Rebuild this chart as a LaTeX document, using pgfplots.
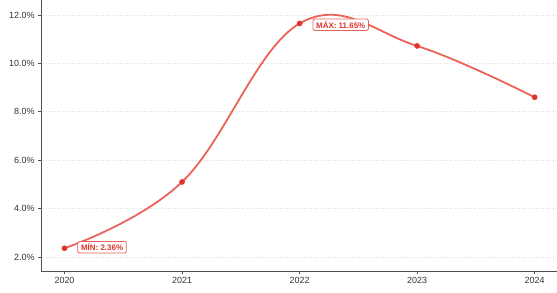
\documentclass[border=0pt]{standalone}
\usepackage{pgfplots}
\pgfplotsset{compat=1.18}
\usepackage{fontspec}
\setmainfont{Liberation Sans}
\definecolor{linered}{RGB}{236,98,88}
\definecolor{markred}{RGB}{222,52,44}
\definecolor{gridgray}{RGB}{222,222,222}
\definecolor{axisgray}{RGB}{80,80,80}
\begin{document}
\begin{tikzpicture}[x=1bp,y=1bp]
\begin{axis}[
  name=ax,
  scale only axis,
  width=516bp, height=271bp,
  xmin=2019.8, xmax=2024.19,
  ymin=1.42, ymax=12.62,
  axis lines*=left,
  axis line style={axisgray, line width=1pt},
  xtick={2020,2021,2022,2023,2024},
  ytick={2,4,6,8,10,12},
  xticklabel style={/pgf/number format/1000 sep=},
  yticklabel={\pgfmathprintnumber[fixed,fixed zerofill,precision=1]{\tick}\%},
  /pgf/number format/assume math mode=true,
  ticklabel style={font=\fontsize{9}{10}\selectfont, text=black!80},
  tick style={axisgray, line width=0.7pt},
  tick align=outside,
  major tick length=3bp,
  ymajorgrids,
  grid style={gridgray, dotted, line width=0.6pt},
  clip=false,
]
\addplot[linered, line width=1.8pt, smooth, tension=0.65] coordinates {
  (2020,2.36) (2021,5.10) (2022,11.65) (2023,10.72) (2024,8.60)
};
\addplot[only marks, mark=*, mark size=2.6pt, markred, mark options={draw=markred, fill=markred}] coordinates {
  (2020,2.36) (2021,5.10) (2022,11.65) (2023,10.72) (2024,8.60)
};
\node[anchor=west, draw=linered, fill=white, rounded corners=2pt, inner xsep=3.2bp, inner ysep=2.2bp, line width=0.8pt,
  text=markred, font=\fontsize{8}{9}\selectfont\bfseries] at (axis cs:2020.11,2.4) {MÍN: 2.36\%};
\node[anchor=west, draw=linered, fill=white, rounded corners=2pt, inner xsep=3.2bp, inner ysep=2.2bp, line width=0.8pt,
  text=markred, font=\fontsize{8}{9}\selectfont\bfseries] at (axis cs:2022.11,11.6) {MÁX: 11.65\%};
\end{axis}
\pgfresetboundingbox
\path (ax.south west) ++(-41bp,-22bp) rectangle (ax.north east);
\end{tikzpicture}
\end{document}
